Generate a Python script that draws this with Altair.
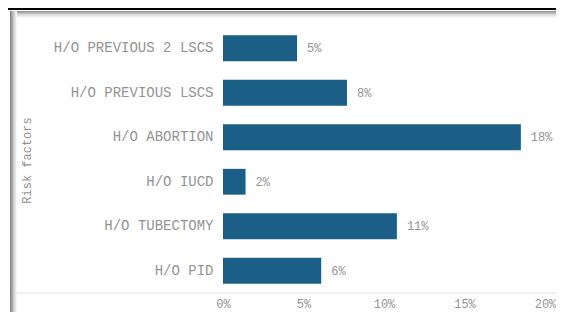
import altair as alt
import pandas as pd

factors = ["H/O PREVIOUS 2 LSCS", "H/O PREVIOUS LSCS", "H/O ABORTION",
           "H/O IUCD", "H/O TUBECTOMY", "H/O PID"]
values = [4.6, 7.7, 18.5, 1.4, 10.8, 6.1]
labels = ["5%", "8%", "18%", "2%", "11%", "6%"]
x_ticks = [0, 5, 10, 15, 20]

df = pd.DataFrame({"factor": factors, "value": values, "label": labels})
one = pd.DataFrame({"k": [0]})

FONT = "Liberation Mono"
TXT = "#939393"
BAR = "#1b5e86"

SVG_W, SVG_H = 548, 304
W, H = 322, 267
PL, PT = 215, 18

y_enc = alt.Y("factor:N", sort=factors,
              scale=alt.Scale(paddingInner=0.42, paddingOuter=0.21),
              axis=alt.Axis(title="Risk factors", labelFont=FONT, labelFontSize=14,
                            labelColor=TXT, labelPadding=10, ticks=False, domain=False,
                            grid=False,
                            titleFont=FONT, titleFontSize=12, titleColor=TXT,
                            titleFontWeight="normal", titleAngle=270,
                            titleBaseline="middle", titleX=-197, titleY=134))
x_enc = alt.X("value:Q", scale=alt.Scale(domain=[0, 20], nice=False),
              axis=alt.Axis(title=None, values=x_ticks, labelExpr="datum.value + '%'",
                            labelFont=FONT, labelFontSize=12, labelColor=TXT,
                            labelFlush=False,
                            ticks=False, domain=False, grid=False, labelPadding=5))

left_grad = alt.Gradient(gradient="linear", x1=0, x2=1, y1=0, y2=0,
                         stops=[alt.GradientStop(color="#7a7a7a", offset=0),
                                alt.GradientStop(color="#c8c8c8", offset=0.5),
                                alt.GradientStop(color="#ffffff", offset=1)])
top_grad = alt.Gradient(gradient="linear", x1=0, x2=0, y1=0, y2=1,
                        stops=[alt.GradientStop(color="#8c8c8c", offset=0),
                               alt.GradientStop(color="#d8d8d8", offset=0.5),
                               alt.GradientStop(color="#ffffff", offset=1)])

RIGHT = SVG_W - PL
top_rule = alt.Chart(one).mark_rect(color="#000000").encode(
    x=alt.value(-PL), x2=alt.value(RIGHT), y=alt.value(-PT), y2=alt.value(-PT + 2))
top_band = alt.Chart(one).mark_rect(color=top_grad).encode(
    x=alt.value(-213), x2=alt.value(RIGHT), y=alt.value(-PT + 3), y2=alt.value(-PT + 10))
left_band = alt.Chart(one).mark_rect(color=left_grad).encode(
    x=alt.value(-213), x2=alt.value(-206), y=alt.value(-PT + 3), y2=alt.value(SVG_H - PT))
base_line = alt.Chart(one).mark_rule(color="#e2e2e2", strokeWidth=1).encode(
    x=alt.value(-208), x2=alt.value(RIGHT), y=alt.value(H))

bars = alt.Chart(df).mark_bar(color=BAR).encode(x=x_enc, y=y_enc)
text = alt.Chart(df).mark_text(align="left", dx=10, font=FONT, fontSize=12,
                               color=TXT).encode(
    x="value:Q", y=alt.Y("factor:N", sort=factors), text="label:N")

chart = alt.layer(top_band, left_band, base_line, top_rule, bars, text).properties(
    width=W, height=H,
    background="#ffffff",
    autosize=alt.AutoSizeParams(type="none"),
    padding={"left": PL, "top": PT, "right": SVG_W - PL - W, "bottom": SVG_H - PT - H},
).configure_view(strokeWidth=0)

chart.save("out.html", embed_options={"renderer": "svg", "actions": False})
